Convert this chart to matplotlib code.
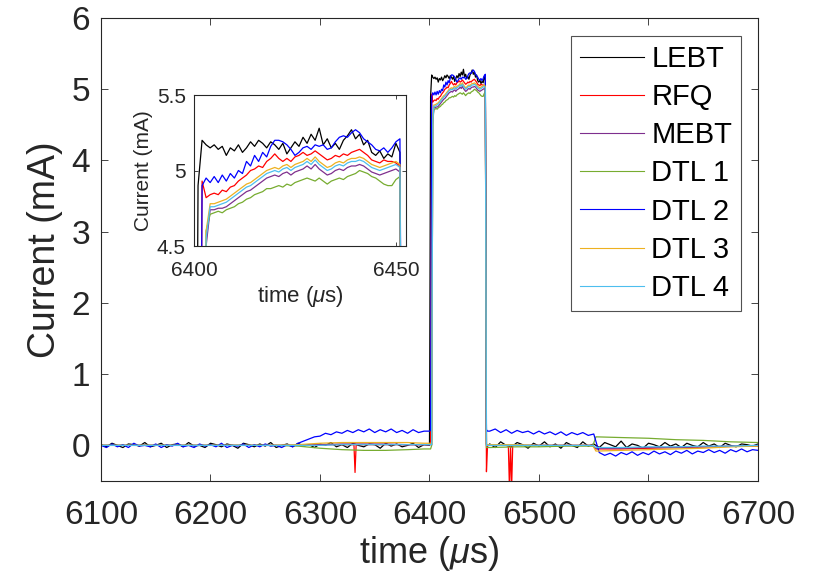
import numpy as np
import matplotlib
matplotlib.use("Agg")
import matplotlib.pyplot as plt

plt.rcParams['font.family'] = ['Liberation Sans', 'DejaVu Sans']
plt.rcParams['mathtext.fontset'] = 'custom'
plt.rcParams['mathtext.rm'] = 'Liberation Sans'
plt.rcParams['mathtext.it'] = 'Liberation Sans:italic'

names = ['LEBT', 'RFQ', 'MEBT', 'DTL 1', 'DTL 2', 'DTL 3', 'DTL 4']
colors = ['#000000', '#FF0000', '#7E2F8E', '#77AC30', '#0000FF', '#EDB120', '#4DBEEE']

# time grids (us)
t_fine_pre = list(range(6100, 6400, 5))
t_fine_post = list(range(6455, 6701, 5))
t_top = list(range(6400, 6454))
t_coarse_pre = [6100, 6150, 6200, 6250, 6280, 6300, 6320, 6340, 6360, 6380, 6395]
t_coarse_post = [6455, 6480, 6500, 6525, 6549, 6552, 6575, 6600, 6625, 6650, 6675, 6700]
t_red_pre = [6100, 6150, 6200, 6250, 6280, 6300, 6320, 6331, 6332, 6333, 6350, 6380, 6395]
t_red_post = [6455, 6472, 6473, 6474, 6475, 6476, 6500, 6525, 6549, 6552, 6575, 6600, 6650, 6700]

# LEBT
lebt_pre = [0.01, -0.02, 0.03, 0.00, -0.03, 0.02, 0.01, -0.01, 0.04, -0.02,
            0.00, 0.03, -0.03, 0.01, 0.02, -0.02, 0.04, -0.01, 0.00, -0.03,
            0.03, 0.01, -0.02, 0.02, 0.00, -0.04, 0.03, 0.01, -0.02, 0.02,
            -0.01, 0.04, -0.03, 0.00, 0.02, -0.02, 0.03, -0.01, 0.01, -0.03,
            0.02, 0.00, 0.04, -0.02, 0.01, -0.03, 0.03, 0.00, -0.02, 0.02,
            0.01, -0.04, 0.03, -0.01, 0.02, -0.02, 0.00, 0.03, -0.03, 0.01]
lebt_top = [0.00, 4.90,
            5.20, 5.17, 5.15, 5.17, 5.14, 5.16, 5.10, 5.15, 5.13, 5.17,
            5.12, 5.15, 5.19, 5.16, 5.20, 5.18, 5.15, 5.19, 5.17, 5.14,
            5.18, 5.11, 5.15, 5.19, 5.16, 5.22, 5.18, 5.24, 5.20, 5.28,
            5.17, 5.21, 5.15, 5.18, 5.14, 5.20, 5.23, 5.27, 5.21, 5.24,
            5.17, 5.20, 5.12, 5.10, 5.13, 5.08, 5.11, 5.09, 5.18, 5.12,
            0.02, -0.01]
lebt_post = [0.02, -0.03, 0.05, 0.00, -0.02, 0.04, 0.01, -0.04, 0.03, -0.01,
             0.05, -0.02, 0.02, -0.04, 0.04, 0.00, -0.03, 0.05, -0.01, 0.02,
             -0.03, 0.04, 0.01, -0.02, 0.06, -0.03, 0.02, 0.00, -0.04, 0.03,
             0.01, -0.02, 0.04, -0.01, 0.02, -0.03, 0.03, 0.00, -0.02, 0.04,
             -0.01, 0.02, -0.03, 0.03, 0.00, -0.02, 0.02, 0.01, -0.01, 0.02]

# RFQ
rfq_pre = [0.00, 0.00, 0.00, 0.00, 0.00, 0.01, 0.01, 0.01, -0.38, 0.01, 0.01, 0.01, 0.01]
rfq_top = [0.01, 0.02,
           4.93, 4.82, 4.84, 4.85, 4.84, 4.87, 4.86, 4.89, 4.90, 4.93,
           4.95, 4.97, 5.00, 5.01, 5.03, 5.02, 5.06, 5.08, 5.11, 5.08,
           5.06, 5.08, 5.06, 5.09, 5.10, 5.12, 5.10, 5.11, 5.13, 5.11,
           5.09, 5.07, 5.08, 5.10, 5.09, 5.11, 5.10, 5.12, 5.13, 5.14,
           5.12, 5.10, 5.07, 5.06, 5.05, 5.07, 5.06, 5.06, 5.05, 5.03,
           -0.37, 0.00]
rfq_post = [0.00, 0.00, -0.60, 0.00, -0.60, 0.00, 0.00, 0.00, 0.00, -0.05, -0.05, -0.04, -0.02, -0.01]

# MEBT
mebt_pre = [0.00, 0.00, 0.00, 0.00, 0.00, 0.01, 0.02, 0.02, 0.02, 0.01, 0.01]
mebt_top = [0.01, 0.01,
            0.01, 4.50, 4.74, 4.74, 4.75, 4.75, 4.76, 4.78, 4.80, 4.82,
            4.84, 4.86, 4.87, 4.89, 4.91, 4.93, 4.95, 4.96, 4.97, 4.96,
            4.98, 4.99, 4.97, 4.99, 5.00, 5.01, 5.03, 5.01, 5.04, 5.01,
            4.99, 4.97, 4.98, 5.00, 5.01, 5.00, 5.02, 5.03, 5.03, 5.04,
            5.03, 5.01, 4.99, 4.98, 4.97, 4.98, 4.99, 5.00, 5.01, 4.99,
            0.00, 0.00]
mebt_post = [0.00, 0.00, 0.00, 0.00, 0.00, -0.04, -0.04, -0.03, -0.03, -0.02, -0.01, 0.00]

# DTL 1
dtl1_pre = [0.00, 0.00, 0.00, 0.00, -0.01, -0.04, -0.06, -0.07, -0.07, -0.06, -0.05]
dtl1_top = [-0.05, -0.05,
            0.00, 4.60, 4.71, 4.72, 4.73, 4.72, 4.74, 4.75, 4.76, 4.78,
            4.79, 4.81, 4.82, 4.84, 4.85, 4.86, 4.88, 4.88, 4.89, 4.90,
            4.89, 4.91, 4.90, 4.92, 4.93, 4.94, 4.95, 4.94, 4.93, 4.95,
            4.93, 4.91, 4.93, 4.94, 4.95, 4.94, 4.96, 4.97, 4.98, 5.00,
            4.99, 4.98, 4.96, 4.95, 4.93, 4.91, 4.90, 4.90, 4.94, 4.96,
            -0.03, -0.03]
dtl1_post = [-0.03, -0.02, -0.02, -0.01, -0.01, 0.12, 0.11, 0.10, 0.08, 0.07, 0.05, 0.04]

# DTL 2
dtl2_pre = [0.00, -0.03, 0.02, -0.02, 0.01, -0.03, 0.03, -0.01, 0.00, -0.02,
            0.02, -0.03, 0.01, -0.01, 0.03, -0.02, 0.00, -0.03, 0.02, -0.01,
            0.01, -0.02, 0.03, -0.03, 0.00, -0.01, 0.02, -0.03, 0.01, -0.02,
            0.02, -0.01, 0.00, -0.03, 0.01, -0.02, 0.03, 0.06, 0.09, 0.12,
            0.13, 0.17, 0.15, 0.19, 0.17, 0.21, 0.18, 0.22, 0.19, 0.23,
            0.18, 0.22, 0.19, 0.23, 0.18, 0.21, 0.17, 0.22, 0.18, 0.20]
dtl2_top = [0.20, 0.21,
            4.90, 4.95, 4.92, 4.96, 4.92, 4.97, 4.93, 4.98, 4.95, 5.00,
            4.98, 5.06, 5.03, 5.10, 5.06, 5.12, 5.09, 5.16, 5.20, 5.20,
            5.19, 5.17, 5.14, 5.10, 5.12, 5.15, 5.16, 5.14, 5.17, 5.16,
            5.17, 5.14, 5.15, 5.19, 5.22, 5.23, 5.22, 5.25, 5.27, 5.25,
            5.21, 5.19, 5.17, 5.14, 5.13, 5.15, 5.12, 5.15, 5.19, 5.21,
            0.22, 0.20]
dtl2_post = [0.20, 0.23, 0.18, 0.22, 0.17, 0.21, 0.18, 0.20, 0.16, 0.20,
             0.16, 0.19, 0.15, 0.19, 0.14, 0.18, 0.15, 0.18, 0.14, 0.16,
             -0.10, -0.14, -0.11, -0.15, -0.10, -0.13, -0.09, -0.14, -0.10, -0.13,
             -0.08, -0.12, -0.09, -0.13, -0.08, -0.11, -0.07, -0.12, -0.08, -0.10,
             -0.06, -0.10, -0.07, -0.11, -0.06, -0.09, -0.05, -0.09, -0.06, -0.07]

# DTL 3
dtl3_pre = [0.00, 0.00, 0.00, 0.00, 0.01, 0.03, 0.04, 0.04, 0.04, 0.04, 0.03]
dtl3_top = [0.03, 0.03,
            0.03, 4.60, 4.78, 4.78, 4.79, 4.80, 4.81, 4.83, 4.85, 4.87,
            4.89, 4.91, 4.92, 4.94, 4.96, 4.98, 5.00, 5.01, 5.02, 5.01,
            5.03, 5.04, 5.02, 5.04, 5.05, 5.06, 5.08, 5.06, 5.09, 5.06,
            5.04, 5.02, 5.03, 5.05, 5.06, 5.05, 5.07, 5.08, 5.08, 5.09,
            5.08, 5.06, 5.04, 5.03, 5.02, 5.03, 5.04, 5.05, 5.06, 5.04,
            0.01, 0.01]
dtl3_post = [0.01, 0.01, 0.00, 0.00, 0.00, -0.08, -0.07, -0.06, -0.05, -0.04, -0.02, -0.01]

# DTL 4
dtl4_pre = [0.00, 0.00, 0.00, 0.00, 0.00, 0.00, 0.01, 0.01, 0.01, 0.01, 0.01]
dtl4_top = [0.01, 0.01,
            0.01, 4.55, 4.76, 4.76, 4.77, 4.78, 4.79, 4.81, 4.83, 4.85,
            4.87, 4.89, 4.90, 4.92, 4.94, 4.96, 4.98, 4.99, 5.00, 4.99,
            5.01, 5.02, 5.00, 5.02, 5.03, 5.04, 5.06, 5.04, 5.07, 5.04,
            5.02, 5.00, 5.01, 5.03, 5.04, 5.03, 5.05, 5.06, 5.06, 5.07,
            5.06, 5.04, 5.02, 5.01, 5.00, 5.01, 5.02, 5.03, 5.04, 5.02,
            0.00, 0.00]
dtl4_post = [0.00, 0.00, 0.00, 0.00, 0.00, -0.03, -0.03, -0.02, -0.02, -0.01, -0.01, 0.00]

series = [
    (t_fine_pre + t_top + t_fine_post, lebt_pre + lebt_top + lebt_post),
    (t_red_pre + t_top + t_red_post, rfq_pre + rfq_top + rfq_post),
    (t_coarse_pre + t_top + t_coarse_post, mebt_pre + mebt_top + mebt_post),
    (t_coarse_pre + t_top + t_coarse_post, dtl1_pre + dtl1_top + dtl1_post),
    (t_fine_pre + t_top + t_fine_post, dtl2_pre + dtl2_top + dtl2_post),
    (t_coarse_pre + t_top + t_coarse_post, dtl3_pre + dtl3_top + dtl3_post),
    (t_coarse_pre + t_top + t_coarse_post, dtl4_pre + dtl4_top + dtl4_post),
]

axcol = '#262626'
fig = plt.figure(figsize=(8.13, 5.8), dpi=100)
ax = fig.add_axes([101 / 813, 1 - 481 / 580, 657 / 813, 463 / 580])
ins = fig.add_axes([194 / 813, 1 - 246 / 580, 212 / 813, 151 / 580])

for a in (ax, ins):
    for (t, v), c, n in zip(series, colors, names):
        a.plot(t, v, color=c, lw=0.9, label=n)
    for s in a.spines.values():
        s.set_color(axcol)
        s.set_linewidth(0.8)
    a.tick_params(direction='in', top=True, right=True, colors=axcol,
                  labelcolor=axcol, width=0.6, length=5)

ax.set_xlim(6100, 6700)
ax.set_ylim(-0.5, 6)
ax.set_xticks(range(6100, 6701, 100))
ax.set_yticks(range(0, 7))
ax.tick_params(labelsize=24)
ax.tick_params(axis='x', pad=14)
ax.tick_params(axis='y', pad=8)
ax.set_xlabel(r'time ($\mu$s)', fontsize=26, color=axcol, labelpad=2)
ax.set_ylabel('Current (mA)', fontsize=27, color=axcol, labelpad=6)

ins.set_xlim(6400, 6452.5)
ins.set_ylim(4.5, 5.5)
ins.set_xticks([6400, 6450])
ins.set_yticks([4.5, 5, 5.5])
ins.set_yticklabels(['4.5', '5', '5.5'])
ins.tick_params(labelsize=15, length=3)
ins.tick_params(axis='x', pad=11)
ins.tick_params(axis='y', pad=6)
ins.set_xlabel(r'time ($\mu$s)', fontsize=16, color=axcol, labelpad=3)
ins.set_ylabel('Current (mA)', fontsize=15, color=axcol, labelpad=3)

handles = ax.get_lines()
leg = ax.legend(handles, names, loc='upper right', bbox_to_anchor=(741 / 813, 1 - 36 / 580),
                bbox_transform=fig.transFigure, borderaxespad=0, fontsize=21,
                frameon=True, fancybox=False, handlelength=2.2, handletextpad=0.25,
                labelspacing=0.35, borderpad=0.3)
leg.get_frame().set_edgecolor(axcol)
leg.get_frame().set_linewidth(0.8)
for h in leg.get_lines():
    h.set_linewidth(0.8)

fig.savefig('out.png', dpi=100)
